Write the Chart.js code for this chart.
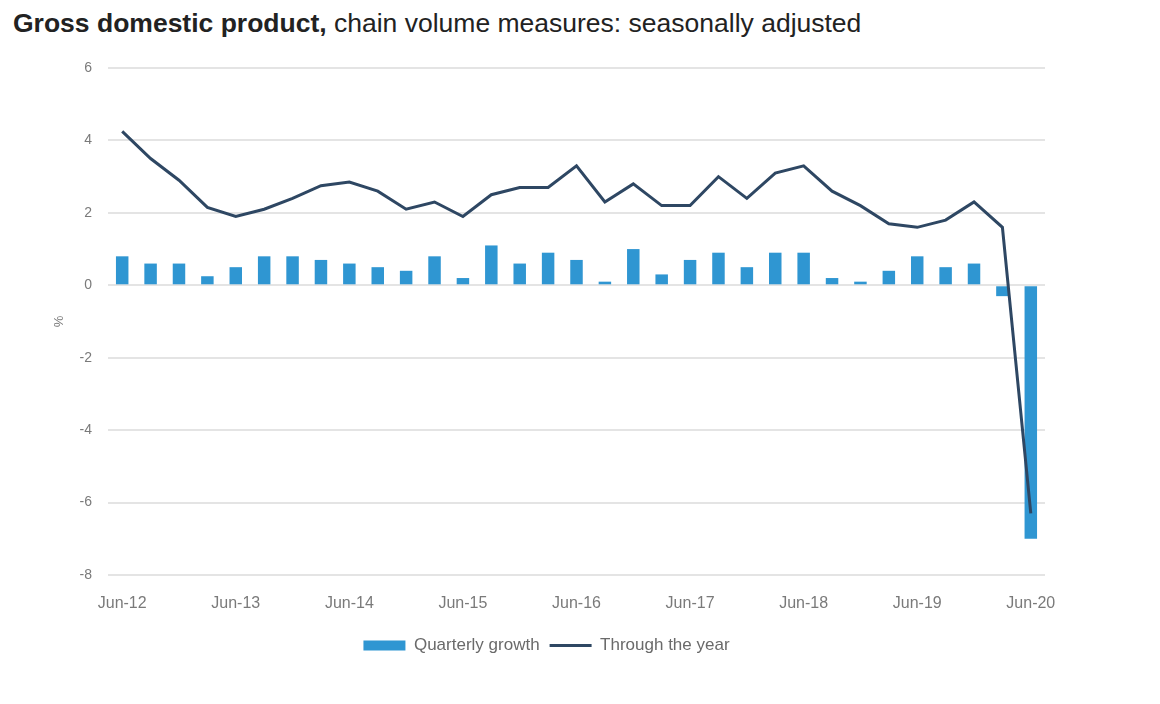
<!DOCTYPE html>
<html>
<head>
<meta charset="utf-8">
<script src="https://cdn.jsdelivr.net/npm/chart.js@4/dist/chart.umd.min.js"></script>
<style>
  html, body { margin: 0; padding: 0; background: #fff; }
  #wrap { position: relative; width: 1160px; height: 704px; }
  #title { position: absolute; left: 13px; top: 8px; font-family: "Liberation Sans", Arial, sans-serif; font-size: 26.5px; color: #222; white-space: nowrap; }
  #title b { font-weight: bold; }
  canvas { position: absolute; left: 0; top: 0; }
</style>
</head>
<body>
<div id="wrap">
  <div id="title"><b>Gross domestic product,</b> chain volume measures: seasonally adjusted</div>
  <canvas id="c" width="1160" height="704"></canvas>
</div>
<script>
const quarters = [
  "Jun-12","Sep-12","Dec-12","Mar-13","Jun-13","Sep-13","Dec-13","Mar-14",
  "Jun-14","Sep-14","Dec-14","Mar-15","Jun-15","Sep-15","Dec-15","Mar-16",
  "Jun-16","Sep-16","Dec-16","Mar-17","Jun-17","Sep-17","Dec-17","Mar-18",
  "Jun-18","Sep-18","Dec-18","Mar-19","Jun-19","Sep-19","Dec-19","Mar-20","Jun-20"
];
const quarterlyGrowth = [
  0.8, 0.6, 0.6, 0.25, 0.5, 0.8, 0.8, 0.7,
  0.6, 0.5, 0.4, 0.8, 0.2, 1.1, 0.6, 0.9,
  0.7, 0.1, 1.0, 0.3, 0.7, 0.9, 0.5, 0.9,
  0.9, 0.2, 0.1, 0.4, 0.8, 0.5, 0.6, -0.3, -7.0
];
const throughTheYear = [
  4.25, 3.5, 2.9, 2.15, 1.9, 2.1, 2.4, 2.75,
  2.85, 2.6, 2.1, 2.3, 1.9, 2.5, 2.7, 2.7,
  3.3, 2.3, 2.8, 2.2, 2.2, 3.0, 2.4, 3.1,
  3.3, 2.6, 2.2, 1.7, 1.6, 1.8, 2.3, 1.6, -6.3
];
const seriesNames = ["Quarterly growth", "Through the year"];
const yTicks = [-8, -6, -4, -2, 0, 2, 4, 6];

const tickColor = "#7a7a7a";
new Chart(document.getElementById("c"), {
  data: {
    labels: quarters,
    datasets: [
      {
        type: "line",
        label: seriesNames[1],
        data: throughTheYear,
        borderColor: "#2e4763",
        backgroundColor: "#2e4763",
        borderWidth: 3,
        pointRadius: 0,
        pointStyle: "line",
        tension: 0,
        order: 0
      },
      {
        type: "bar",
        label: seriesNames[0],
        data: quarterlyGrowth,
        backgroundColor: "#2f96d2",
        borderWidth: 0,
        barPercentage: 0.44,
        categoryPercentage: 1.0,
        pointStyle: "rect",
        order: 0
      }
    ]
  },
  options: {
    responsive: false,
    animation: false,
    layout: { padding: { left: 48, right: 115, top: 68, bottom: 40 } },
    plugins: {
      tooltip: { enabled: false },
      legend: {
        position: "bottom",
        reverse: true,
        labels: {
          usePointStyle: true,
          pointStyleWidth: 42,
          boxHeight: 10,
          padding: 10,
          color: "#6a6a6a",
          font: { family: "'Liberation Sans', Arial, sans-serif", size: 17 }
        }
      }
    },
    scales: {
      x: {
        grid: { display: false, drawTicks: false },
        border: { display: false },
        ticks: {
          color: tickColor,
          maxRotation: 0,
          autoSkip: false,
          padding: 19,
          font: { family: "'Liberation Sans', Arial, sans-serif", size: 16 },
          callback: function (v, i) { return i % 4 === 0 ? quarters[i] : ""; }
        },
        afterFit: function (s) { s.height = 52; }
      },
      y: {
        min: yTicks[0],
        max: yTicks[yTicks.length - 1],
        afterBuildTicks: function (s) { s.ticks = yTicks.map(v => ({ value: v })); },
        grid: { color: "#e4e4e4", lineWidth: 2, drawTicks: false },
        border: { display: false },
        ticks: {
          color: tickColor,
          padding: 16,
          font: { family: "'Liberation Sans', Arial, sans-serif", size: 14 }
        },
        title: {
          display: true,
          text: "%",
          color: tickColor,
          padding: { top: 4, bottom: 4 },
          font: { family: "'Liberation Sans', Arial, sans-serif", size: 13 }
        },
        afterFit: function (s) { s.width = 60; }
      }
    }
  }
});
</script>
</body>
</html>
